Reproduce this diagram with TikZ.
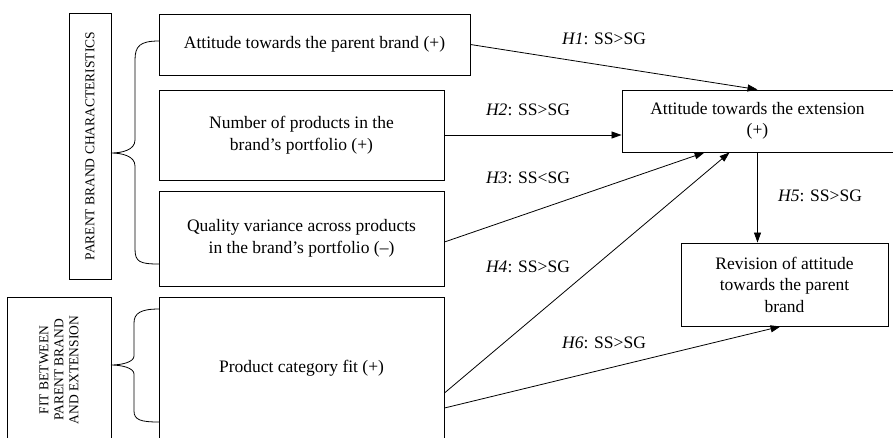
\documentclass[tikz,border=0pt]{standalone}
\usepackage{fontspec}
\setmainfont{Liberation Serif}
\usetikzlibrary{arrows.meta,calc}
\begin{document}
\begin{tikzpicture}[x=1pt,y=-1pt,
  box/.style={draw, line width=0.9pt, align=center, inner sep=0pt, font=\fontsize{17.5}{21.5}\selectfont},
  sidebox/.style={draw, line width=0.9pt, align=center, inner sep=0pt, rotate=90, font=\fontsize{13.5}{15}\selectfont},
  lbl/.style={inner sep=1pt, font=\fontsize{17.5}{21}\selectfont},
  conn/.style={line width=0.8pt, -{Triangle[length=10pt,width=7pt]}},
  bracepath/.style={line width=0.8pt}]
\useasboundingbox (0,0) rectangle (893,437);
\clip (0,0) rectangle (893,437);
% side labels
\node[sidebox, minimum width=266, minimum height=42] (pbc) at (90,146) {PARENT BRAND CHARACTERISTICS};
\node[sidebox, minimum width=146, minimum height=104] (fpb) at (59,370) {FIT BETWEEN\\PARENT BRAND\\AND EXTENSION};
% boxes
\node[box, minimum width=311, minimum height=61] (att) at (314.5,44.5) {Attitude towards the parent brand (+)};
\node[box, minimum width=285, minimum height=90] (num) at (301.5,135) {Number of products in the\\brand’s portfolio (+)};
\node[box, minimum width=285, minimum height=95] (qual) at (301.5,238.5) {Quality variance across products\\in the brand’s portfolio (–)};
\node[box, minimum width=285, minimum height=142] (pfit) at (301.5,368) {Product category fit (+)};
\node[box, minimum width=271, minimum height=62] (ext) at (757.5,121) {Attitude towards the extension\\(+)};
\node[box, minimum width=207, minimum height=83] (rev) at (784.5,284.5) {Revision of attitude\\towards the parent\\brand};
% braces
\draw[bracepath] (159,41) .. controls (140,41) and (135,46) .. (135,60) -- (135,140)
  .. controls (135,150) and (122,153) .. (111,153)
  .. controls (122,153) and (135,156) .. (135,166) -- (135,249)
  .. controls (135,262) and (140,264) .. (159,264);
\draw[bracepath] (159,309) .. controls (141,309) and (134,313) .. (134,323) -- (134,356)
  .. controls (134,362) and (122,365) .. (111,365)
  .. controls (122,365) and (134,368) .. (134,374) -- (134,411)
  .. controls (134,420) and (141,422) .. (159,422);
% connectors
\draw[conn] (att.east) -- (ext.north);
\draw[conn] (num.east) -- (num.east -| ext.west);
\draw[conn] ([yshift=-3.5pt]qual.east) -- ([xshift=83pt]ext.south west);
\draw[conn] ([yshift=-25pt]pfit.east) -- ([xshift=108pt]ext.south west);
\draw[conn] (ext.south) -- (ext.south |- rev.north);
\draw[conn] ([yshift=-40pt]pfit.east) -- ([xshift=-4pt]rev.south);
% labels
\node[lbl] (h1) at (604,39) {\textit{H1}: SS>SG};
\node[lbl] (h2) at (528,110) {\textit{H2}: SS>SG};
\node[lbl] (h3) at (528,178) {\textit{H3}: SS<SG};
\node[lbl] (h4) at (528,267) {\textit{H4}: SS>SG};
\node[lbl] (h5) at (820,196) {\textit{H5}: SS>SG};
\node[lbl] (h6) at (604,343) {\textit{H6}: SS>SG};
\end{tikzpicture}
\end{document}
